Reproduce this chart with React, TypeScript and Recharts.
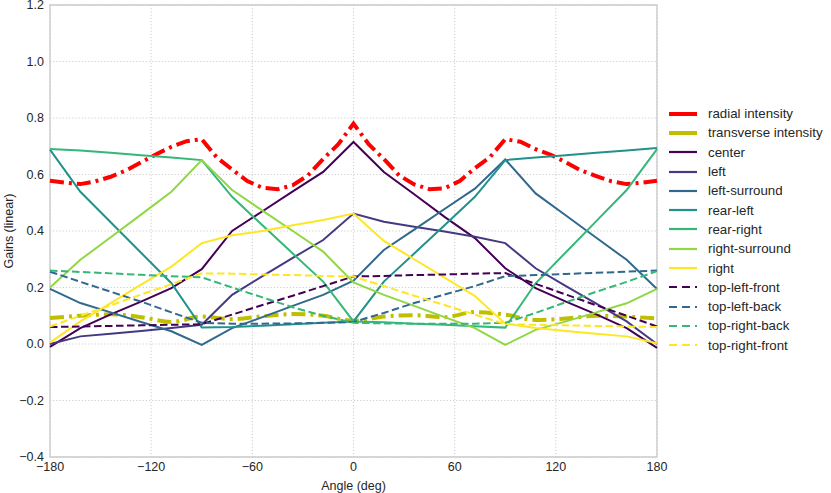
import React from 'react';
import { LineChart, Line, XAxis, YAxis, CartesianGrid, ReferenceArea } from 'recharts';

const angles = [-180, -162, -144, -126, -108, -90, -72, -54, -36, -18, 0, 18, 36, 54, 72, 90, 108, 126, 144, 162, 180];

const radialAngles = [-180, -171, -162, -153, -144, -135, -126, -117, -108, -99, -90, -81, -72, -63, -54, -45, -36, -27, -18, -9, 0, 9, 18, 27, 36, 45, 54, 63, 72, 81, 90, 99, 108, 117, 126, 135, 144, 153, 162, 171, 180];
const radialIntensity = [0.578, 0.571, 0.566, 0.576, 0.592, 0.614, 0.643, 0.672, 0.698, 0.718, 0.725, 0.66, 0.618, 0.577, 0.553, 0.548, 0.562, 0.597, 0.655, 0.707, 0.78, 0.707, 0.655, 0.597, 0.565, 0.548, 0.551, 0.577, 0.622, 0.662, 0.725, 0.716, 0.69, 0.67, 0.643, 0.614, 0.594, 0.576, 0.566, 0.571, 0.578];

const transverseIntensity = [0.092, 0.1, 0.105, 0.095, 0.078, 0.097, 0.088, 0.098, 0.106, 0.1, 0.082, 0.097, 0.102, 0.095, 0.113, 0.104, 0.085, 0.09, 0.1, 0.097, 0.09];
const center = [-0.01, 0.056, 0.105, 0.15, 0.198, 0.265, 0.4, 0.47, 0.54, 0.609, 0.715, 0.609, 0.53, 0.45, 0.375, 0.268, 0.198, 0.15, 0.105, 0.056, -0.014];
const left = [0.0, 0.027, 0.036, 0.046, 0.057, 0.068, 0.174, 0.24, 0.305, 0.368, 0.462, 0.433, 0.415, 0.398, 0.38, 0.357, 0.268, 0.205, 0.143, 0.08, 0.0];
const leftSurround = [0.195, 0.145, 0.112, 0.078, 0.045, -0.003, 0.056, 0.095, 0.135, 0.174, 0.224, 0.333, 0.405, 0.478, 0.55, 0.653, 0.533, 0.455, 0.376, 0.298, 0.195];
const rearLeft = [0.688, 0.539, 0.431, 0.323, 0.215, 0.058, 0.06, 0.065, 0.07, 0.075, 0.08, 0.221, 0.32, 0.42, 0.521, 0.651, 0.66, 0.668, 0.677, 0.685, 0.694];
const rearRight = [0.69, 0.685, 0.677, 0.668, 0.66, 0.651, 0.521, 0.42, 0.32, 0.221, 0.08, 0.077, 0.072, 0.068, 0.063, 0.058, 0.215, 0.325, 0.435, 0.545, 0.69];
const rightSurround = [0.2, 0.298, 0.378, 0.458, 0.539, 0.651, 0.545, 0.472, 0.4, 0.327, 0.218, 0.174, 0.135, 0.095, 0.056, -0.003, 0.05, 0.08, 0.112, 0.144, 0.195];
const right = [0.005, 0.08, 0.145, 0.21, 0.274, 0.357, 0.385, 0.4, 0.42, 0.439, 0.462, 0.365, 0.3, 0.235, 0.17, 0.072, 0.057, 0.046, 0.036, 0.027, 0.003];
const topLeftFront = [0.06, 0.062, 0.064, 0.066, 0.068, 0.07, 0.104, 0.138, 0.171, 0.205, 0.239, 0.241, 0.244, 0.246, 0.249, 0.251, 0.213, 0.175, 0.137, 0.1, 0.062];
const topLeftBack = [0.256, 0.22, 0.185, 0.15, 0.112, 0.075, 0.072, 0.072, 0.073, 0.075, 0.078, 0.11, 0.145, 0.175, 0.205, 0.24, 0.244, 0.248, 0.252, 0.256, 0.26];
const topRightBack = [0.26, 0.255, 0.25, 0.245, 0.24, 0.236, 0.2, 0.165, 0.13, 0.1, 0.075, 0.073, 0.072, 0.072, 0.072, 0.075, 0.11, 0.148, 0.185, 0.22, 0.258];
const topRightFront = [0.062, 0.1, 0.137, 0.175, 0.212, 0.25, 0.249, 0.246, 0.244, 0.241, 0.239, 0.205, 0.171, 0.138, 0.104, 0.07, 0.068, 0.066, 0.064, 0.062, 0.06];

const xTicks = [-180, -120, -60, 0, 60, 120, 180];
const yTicks = [-0.4, -0.2, 0, 0.2, 0.4, 0.6, 0.8, 1.0, 1.2];

type Series = { key: string; name: string; values: number[]; color: string; width: number; dash?: string; curve: 'linear' | 'monotone' };

const radialSeries: Series = { key: 'radial', name: 'radial intensity', values: radialIntensity, color: '#ff0000', width: 4, dash: '14 5 3 5', curve: 'linear' };

const series: Series[] = [
  { key: 'transverse', name: 'transverse intensity', values: transverseIntensity, color: '#bfbf00', width: 4, dash: '14 5 3 5', curve: 'monotone' },
  { key: 'center', name: 'center', values: center, color: '#440154', width: 2, curve: 'linear' },
  { key: 'left', name: 'left', values: left, color: '#443983', width: 2, curve: 'linear' },
  { key: 'leftSurround', name: 'left-surround', values: leftSurround, color: '#31688e', width: 2, curve: 'linear' },
  { key: 'rearLeft', name: 'rear-left', values: rearLeft, color: '#21918c', width: 2, curve: 'linear' },
  { key: 'rearRight', name: 'rear-right', values: rearRight, color: '#35b779', width: 2, curve: 'linear' },
  { key: 'rightSurround', name: 'right-surround', values: rightSurround, color: '#90d743', width: 2, curve: 'linear' },
  { key: 'right', name: 'right', values: right, color: '#fde725', width: 2, curve: 'linear' },
  { key: 'topLeftFront', name: 'top-left-front', values: topLeftFront, color: '#440154', width: 2, dash: '7.5 3.5', curve: 'linear' },
  { key: 'topLeftBack', name: 'top-left-back', values: topLeftBack, color: '#31688e', width: 2, dash: '7.5 3.5', curve: 'linear' },
  { key: 'topRightBack', name: 'top-right-back', values: topRightBack, color: '#35b779', width: 2, dash: '7.5 3.5', curve: 'linear' },
  { key: 'topRightFront', name: 'top-right-front', values: topRightFront, color: '#fde725', width: 2, dash: '7.5 3.5', curve: 'linear' },
];

const legendSeries = [radialSeries, ...series];

const data = angles.map((a, i) => {
  const row: Record<string, number> = { angle: a };
  series.forEach((s) => {
    row[s.key] = s.values[i];
  });
  return row;
});

const radialData = radialAngles.map((a, i) => ({ angle: a, radial: radialIntensity[i] }));

const FONT = '"Liberation Sans", Arial, Helvetica, sans-serif';
const TEXT = '#262626';

const fmtX = (v: number) => String(v).replace('-', '\u2212');
const fmtY = (v: number) => {
  const s = (Math.abs(v) < 1e-9 ? 0 : v).toFixed(1);
  return s.replace('-', '\u2212');
};

function LegendBox() {
  return (
    <div style={{ position: 'absolute', left: 668, top: 104, fontFamily: FONT, fontSize: 13.3, color: TEXT }}>
      {legendSeries.map((s) => {
        const isDashDot = s.key === 'radial' || s.key === 'transverse';
        return (
          <div key={s.key} style={{ height: 19.3, display: 'flex', alignItems: 'center', whiteSpace: 'nowrap' }}>
            <svg width={30} height={10} style={{ display: 'block' }}>
              <line
                x1={1}
                x2={29}
                y1={5}
                y2={5}
                stroke={s.color}
                strokeWidth={isDashDot ? 4 : 2.2}
                strokeDasharray={isDashDot ? undefined : s.dash ? '8 5' : undefined}
              />
            </svg>
            <span style={{ marginLeft: 10 }}>{s.name}</span>
          </div>
        );
      })}
    </div>
  );
}

export default function App() {
  return (
    <div style={{ position: 'absolute', left: 0, top: 0, width: 831, height: 493, background: '#ffffff' }}>
      <LineChart width={831} height={493} data={data} margin={{ top: 5, right: 174, bottom: 0, left: 0 }}>
        <CartesianGrid stroke="#c8c8c8" strokeDasharray="1.2 2" strokeWidth={0.9} />
        <XAxis
          dataKey="angle"
          type="number"
          domain={[-180, 180]}
          ticks={xTicks}
          tickFormatter={fmtX}
          axisLine={false}
          tickLine={false}
          tickSize={3}
          tickMargin={2}
          height={36}
          allowDuplicatedCategory={false}
          tick={{ fill: TEXT, fontSize: 12.5, fontFamily: FONT }}
          label={{ value: 'Angle (deg)', position: 'insideBottom', offset: 3, fill: TEXT, fontSize: 12.5, fontFamily: FONT }}
        />
        <YAxis
          type="number"
          domain={[-0.4, 1.2]}
          ticks={yTicks}
          tickFormatter={fmtY}
          axisLine={false}
          tickLine={false}
          tickSize={3}
          tickMargin={3}
          width={50}
          interval={0}
          tick={{ fill: TEXT, fontSize: 12.5, fontFamily: FONT }}
          label={{ value: 'Gains (linear)', angle: -90, position: 'insideLeft', offset: 9, fill: TEXT, fontSize: 12.5, fontFamily: FONT, style: { textAnchor: 'middle' } }}
        />
        <Line
          data={radialData}
          dataKey="radial"
          name={radialSeries.name}
          type="linear"
          stroke={radialSeries.color}
          strokeWidth={radialSeries.width}
          strokeDasharray={radialSeries.dash}
          dot={false}
          activeDot={false}
          isAnimationActive={false}
        />
        {series.map((s) => (
          <Line
            key={s.key}
            dataKey={s.key}
            name={s.name}
            type={s.curve}
            stroke={s.color}
            strokeWidth={s.width}
            strokeDasharray={s.dash}
            dot={false}
            activeDot={false}
            isAnimationActive={false}
          />
        ))}
        <ReferenceArea x1={-180} x2={180} y1={-0.4} y2={1.2} fill="none" stroke="#cccccc" strokeWidth={1.4} ifOverflow="visible" />
      </LineChart>
      <LegendBox />
    </div>
  );
}
